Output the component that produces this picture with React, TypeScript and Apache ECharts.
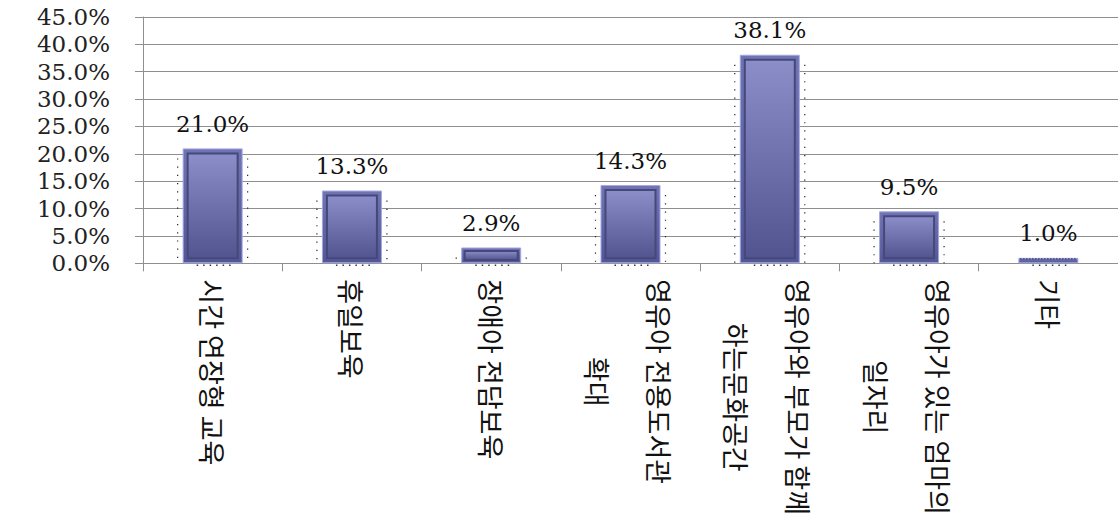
import React, { useEffect, useRef } from "react";
import * as echarts from "echarts";

const categories: string[][] = [
  ["시간 연장형 교육"],
  ["휴일보육"],
  ["장애아 전담보육"],
  ["영유아 전용도서관", "확대"],
  ["영유아와 부모가 함께", "하는문화공간"],
  ["영유아가 있는 엄마의", "일자리"],
  ["기타"],
];
const values: number[] = [21.0, 13.3, 2.9, 14.3, 38.1, 9.5, 1.0];
const yTicks = { min: 0, max: 45, interval: 5 };

const GRID = "#8f8f8f";
const SERIF = "'DejaVu Serif', 'Liberation Serif', serif";
const KR = "'Noto Sans CJK KR', 'Noto Sans', sans-serif";

export default function App() {
  const ref = useRef<HTMLDivElement>(null);
  useEffect(() => {
    if (!ref.current) return;
    const chart = echarts.init(ref.current, undefined, { renderer: "svg" });
    const catNames = categories.map((c) => c.join(" "));
    chart.setOption({
      animation: false,
      backgroundColor: "#ffffff",
      grid: { left: 143, top: 17, width: 980, height: 247, containLabel: false },
      xAxis: {
        type: "category",
        data: catNames,
        boundaryGap: true,
        axisLine: { show: true, lineStyle: { color: GRID, width: 1 } },
        axisTick: { show: true, length: 8, lineStyle: { color: GRID } },
        axisLabel: {
          interval: 0,
          rotate: -90,
          margin: 16,
          color: "#111",
          formatter: (_v: string, idx: number) => {
            const c = categories[idx];
            if (c.length === 1) return `{a|${c[0]}}`;
            return `{a|${c[0]}}\n{b|${c[1]}}`;
          },
          rich: {
            a: { fontFamily: KR, fontSize: 27, lineHeight: 66, align: "center", color: "#111" },
            b: { fontFamily: KR, fontSize: 27, lineHeight: 58, align: "center", color: "#111" },
          },
        },
        splitLine: { show: false },
      },
      yAxis: {
        type: "value",
        min: yTicks.min,
        max: yTicks.max,
        interval: yTicks.interval,
        axisLine: { show: true, lineStyle: { color: GRID, width: 1 } },
        axisTick: { show: true, length: 8, lineStyle: { color: GRID } },
        axisLabel: {
          margin: 33,
          fontFamily: SERIF,
          fontSize: 23,
          color: "#222",
          formatter: (v: number) => v.toFixed(1) + "%",
        },
        splitLine: { show: true, lineStyle: { color: GRID, width: 1 } },
      },
      series: [
        {
          type: "bar",
          data: values,
          barWidth: 60,
          itemStyle: {
            color: new echarts.graphic.LinearGradient(0, 0, 0, 1, [
              { offset: 0, color: "#7074b4" },
              { offset: 1, color: "#53579a" },
            ]),
            borderColor: "#a4a7e2",
            borderWidth: 1,
          },
          label: {
            show: true,
            position: "top",
            distance: 13,
            fontFamily: SERIF,
            fontSize: 23,
            color: "#111",
            formatter: (p: any) => Number(p.value).toFixed(1) + "%",
          },
          z: 2,
        },
        {
          type: "custom",
          data: values.map((v, i) => [i, v]),
          encode: { x: 0, y: 1 },
          silent: true,
          z: 3,
          renderItem: (params: any, api: any) => {
            const i = api.value(0);
            const v = api.value(1);
            const top = api.coord([i, v]);
            const base = api.coord([i, 0]);
            const w = 60;
            const left = top[0] - w / 2;
            const right = top[0] + w / 2;
            const h = base[1] - top[1];
            const children: any[] = [];
            if (h >= 10) {
              const inset = Math.min(5, (h - 2) / 4);
              children.push({
                type: "rect",
                shape: { x: left + inset, y: top[1] + inset, width: w - 2 * inset, height: h - 2 * inset },
                style: {
                  fill: new echarts.graphic.LinearGradient(0, 0, 0, 1, [
                    { offset: 0, color: "#8b8ec8" },
                    { offset: 1, color: "#51548e" },
                  ]),
                  stroke: "#454879",
                  lineWidth: 2,
                },
              });
            } else {
              children.push({
                type: "line",
                shape: { x1: left + 2, y1: top[1] + 1, x2: right - 2, y2: top[1] + 1 },
                style: { stroke: "#2c2f55", lineWidth: 1.5, lineDash: [1, 2] },
              });
            }
            const dotTop = top[1] + Math.min(10, h);
            children.push({
              type: "line",
              shape: { x1: left - 5, y1: dotTop, x2: left - 5, y2: base[1] },
              style: { stroke: "#222", lineWidth: 1.2, lineDash: [1.2, 7] },
            });
            children.push({
              type: "line",
              shape: { x1: right + 5, y1: dotTop, x2: right + 5, y2: base[1] },
              style: { stroke: "#222", lineWidth: 1.2, lineDash: [1.2, 7] },
            });
            children.push({
              type: "line",
              shape: { x1: left + 14, y1: base[1] + 2, x2: right - 12, y2: base[1] + 2 },
              style: { stroke: "#333", lineWidth: 1.5, lineDash: [1.5, 5] },
            });
            return { type: "group", children };
          },
        },
      ],
    });
    return () => chart.dispose();
  }, []);
  return (
    <div
      ref={ref}
      style={{ position: "fixed", left: 0, top: 0, width: 1118, height: 518, background: "#fff" }}
    />
  );
}
